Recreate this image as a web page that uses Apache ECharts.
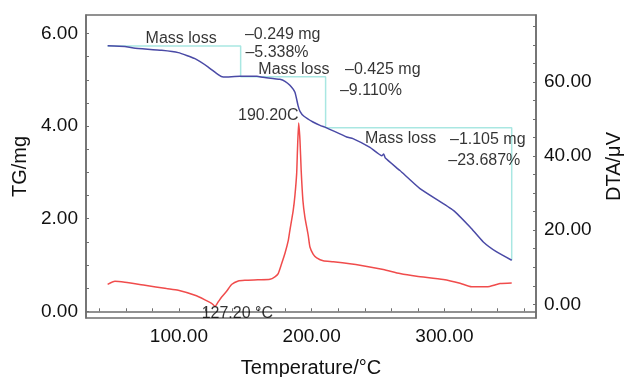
<!DOCTYPE html>
<html>
<head>
<meta charset="utf-8">
<script src="https://cdn.jsdelivr.net/npm/echarts@6/dist/echarts.min.js"></script>
<style>
  html, body { margin: 0; padding: 0; background: #ffffff; }
  #chart { width: 625px; height: 377px; }
</style>
</head>
<body>
<div id="chart"></div>
<script>
// TG curve: temperature (°C) and sample mass (mg)
const tgTemperature = [46.3, 59.3, 65.8, 87.0, 99.5, 112.1, 122.1, 129.6, 133.4, 146.0, 158.8, 163.3, 176.1, 179.9, 183.6, 187.4, 189.7, 191.2, 194.2, 201.0, 206.3, 211.3, 226.4, 231.1, 243.9, 253.0, 254.2, 255.5, 266.5, 281.6, 306.7, 319.3, 329.3, 339.4, 350.7];
const tgMass = [5.734, 5.719, 5.686, 5.637, 5.587, 5.457, 5.276, 5.111, 5.059, 5.076, 5.076, 5.054, 5.011, 4.968, 4.881, 4.730, 4.449, 4.320, 4.212, 4.089, 4.017, 3.963, 3.765, 3.730, 3.542, 3.360, 3.400, 3.310, 3.040, 2.650, 2.181, 1.821, 1.497, 1.281, 1.102];

// DTA curve: temperature (°C) and signal (µV)
const dtaTemperature = [46.3, 51.8, 59.3, 74.4, 90.7, 99.5, 112.1, 119.6, 124.6, 127.2, 129.4, 132.2, 135.9, 139.9, 144.7, 149.7, 159.5, 168.6, 172.3, 174.8, 177.4, 179.9, 182.4, 183.6, 186.1, 187.4, 188.7, 189.3, 190.2, 191.2, 192.1, 193.4, 194.9, 197.4, 198.7, 201.2, 203.8, 208.7, 216.3, 236.4, 254.0, 266.5, 279.1, 299.2, 311.8, 320.6, 331.9, 341.9, 350.7];
const dtaSignal = [5.40, 6.21, 5.94, 5.13, 4.24, 3.78, 2.43, 1.21, 0.27, -0.54, 0.54, 1.97, 3.51, 5.40, 6.29, 6.48, 6.61, 6.75, 7.42, 8.29, 10.99, 13.77, 17.27, 19.97, 25.37, 29.42, 35.28, 41.57, 48.93, 44.26, 36.17, 28.07, 23.56, 18.62, 15.47, 13.50, 12.55, 11.74, 11.47, 10.53, 9.37, 8.29, 7.56, 6.67, 5.67, 4.72, 4.72, 5.59, 5.75];

// Mass-loss step levels (°C, mg)
const stepTemperature = [46.3, 146.5, 146.5, 210.5, 210.5, 350.7, 350.7];
const stepMass = [5.730, 5.730, 5.065, 5.065, 3.965, 3.965, 1.102];

// Axis tick labels
const xTickLabels = [100, 200, 300];
const tgTickLabels = [0, 2, 4, 6];
const dtaTickLabels = [0, 20, 40, 60];

// Annotation texts
const annotationTexts = ['Mass loss', '–0.249 mg', '–5.338%', 'Mass loss', '–0.425 mg', '–9.110%', '190.20C', 'Mass loss', '–1.105 mg', '–23.687%', '127.20 °C'];

const zip = (xs, ys) => xs.map((x, i) => [x, ys[i]]);
const range = (a, b, s) => { const r = []; for (let v = a; v <= b + 1e-9; v += s) r.push(+v.toFixed(4)); return r; };

// Anchors of the annotation texts in (°C, TG mg) units, with horizontal alignment
const annotationAnchors = [
  [74.9, 5.89, 'left'], [149.7, 5.98, 'left'], [150.1, 5.59, 'left'],
  [159.8, 5.23, 'left'], [225.1, 5.21, 'left'], [221.3, 4.77, 'left'],
  [190.1, 4.22, 'right'],
  [240.2, 3.73, 'left'], [304.2, 3.71, 'left'], [302.9, 3.26, 'left'],
  [144.0, -0.06, 'center']
];

const axisGray = '#6e6e6e';
const fontFamily = 'Liberation Sans, Arial, sans-serif';
const labelFont = { fontFamily, fontSize: 19, color: '#111111' };
const nameFont = { fontFamily, fontSize: 20, color: '#111111' };

const chart = echarts.init(document.getElementById('chart'), null, { renderer: 'canvas' });

chart.setOption({
  animation: false,
  backgroundColor: '#ffffff',
  grid: {
    left: 86, top: 15, width: 450, height: 303,
    show: true, borderColor: axisGray, borderWidth: 1.5,
    containLabel: false, outerBoundsMode: 'none'
  },
  xAxis: {
    type: 'value', min: 30, max: 369,
    name: 'Temperature/°C', nameLocation: 'middle', nameGap: 40, nameTextStyle: nameFont,
    axisLine: { show: true, lineStyle: { color: axisGray, width: 1.5 } },
    axisTick: { show: true, inside: true, length: 3, lineStyle: { color: axisGray }, customValues: range(40, 360, 20) },
    axisLabel: { ...labelFont, margin: 9, customValues: xTickLabels, formatter: v => v.toFixed(2) },
    splitLine: { show: false }
  },
  yAxis: [
    {
      type: 'value', position: 'left', min: -0.145, max: 6.4,
      name: 'TG/mg', nameLocation: 'middle', nameRotate: 90, nameGap: 55, nameTextStyle: nameFont,
      axisLine: { show: true, lineStyle: { color: axisGray, width: 1.5 } },
      axisTick: { show: true, inside: true, length: 3, lineStyle: { color: axisGray }, customValues: range(0, 6, 0.5) },
      axisLabel: { ...labelFont, margin: 8, customValues: tgTickLabels, formatter: v => v.toFixed(2) },
      splitLine: { show: false }
    },
    {
      type: 'value', position: 'right', min: -3.7, max: 78.1,
      name: 'DTA/μV', nameLocation: 'middle', nameRotate: 90, nameGap: 68, nameTextStyle: nameFont,
      axisLine: { show: true, lineStyle: { color: axisGray, width: 1.5 } },
      axisTick: { show: true, inside: true, length: 3, lineStyle: { color: axisGray }, customValues: range(0, 75, 5) },
      axisLabel: { ...labelFont, margin: 8, customValues: dtaTickLabels, formatter: v => v.toFixed(2) },
      splitLine: { show: false }
    }
  ],
  series: [
    {
      name: 'Mass loss steps', type: 'line', yAxisIndex: 0, z: 1,
      data: zip(stepTemperature, stepMass),
      showSymbol: false, lineStyle: { color: '#a9e7e2', width: 1.5 }, silent: true
    },
    {
      name: 'DTA', type: 'line', yAxisIndex: 1, z: 2,
      data: zip(dtaTemperature, dtaSignal),
      showSymbol: false, smooth: 0.2, lineStyle: { color: '#f04c4c', width: 1.5 }, silent: true
    },
    {
      name: 'TG', type: 'line', yAxisIndex: 0, z: 3,
      data: zip(tgTemperature, tgMass),
      showSymbol: false, smooth: 0.15, lineStyle: { color: '#4a4aa6', width: 1.5 }, silent: true
    },
    {
      name: 'Annotations', type: 'scatter', yAxisIndex: 0, z: 5, symbolSize: 0, silent: true,
      data: annotationTexts.map((t, i) => ({
        value: [annotationAnchors[i][0], annotationAnchors[i][1]],
        label: {
          show: true, formatter: t, position: [0, 0],
          align: annotationAnchors[i][2], verticalAlign: 'middle',
          fontFamily, fontSize: 16, color: '#000000'
        }
      }))
    }
  ]
});
</script>
</body>
</html>
